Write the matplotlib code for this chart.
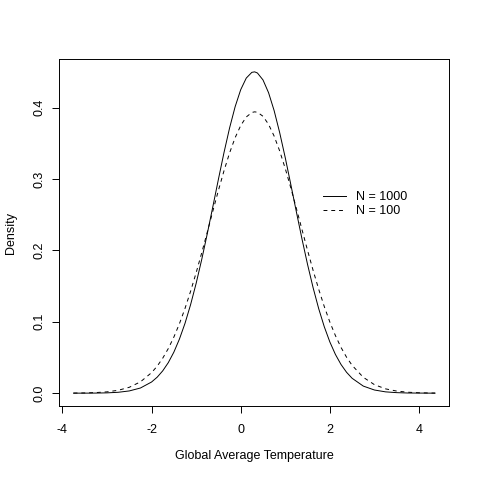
import matplotlib
matplotlib.use("Agg")
import matplotlib.pyplot as plt

plt.rcParams['font.family'] = ['Liberation Sans', 'DejaVu Sans']

# Density curves
x_vals = [-3.75, -3.5, -3.25, -3.0, -2.75, -2.5, -2.25, -2.0, -1.875, -1.75,
          -1.625, -1.5, -1.375, -1.25, -1.125, -1.0, -0.875, -0.75, -0.625, -0.5,
          -0.375, -0.25, -0.125, 0.0, 0.125, 0.25, 0.3125, 0.375, 0.5, 0.625,
          0.75, 0.875, 1.0, 1.125, 1.25, 1.375, 1.5, 1.625, 1.75, 1.875,
          2.0, 2.125, 2.25, 2.375, 2.5, 2.75, 3.0, 3.25, 3.5, 3.75,
          4.0, 4.25, 4.36]
dens_1000 = [0.0000, 0.0000, 0.0001, 0.0004, 0.0012, 0.0031, 0.0072, 0.0156, 0.0223, 0.0312,
             0.0427, 0.0574, 0.0757, 0.0977, 0.1238, 0.1537, 0.1871, 0.2233, 0.2612, 0.2996,
             0.3369, 0.3713, 0.4012, 0.4250, 0.4413, 0.4493, 0.4500, 0.4484, 0.4387, 0.4208,
             0.3957, 0.3647, 0.3296, 0.2920, 0.2536, 0.2159, 0.1802, 0.1475, 0.1183, 0.0930,
             0.0717, 0.0542, 0.0402, 0.0292, 0.0208, 0.0099, 0.0044, 0.0018, 0.0007, 0.0002,
             0.0001, 0.0000, 0.0000]
dens_100 = [0.0001, 0.0003, 0.0008, 0.0018, 0.0040, 0.0082, 0.0158, 0.0287, 0.0377, 0.0489,
            0.0624, 0.0785, 0.0972, 0.1186, 0.1425, 0.1686, 0.1965, 0.2255, 0.2550, 0.2840,
            0.3114, 0.3364, 0.3578, 0.3748, 0.3868, 0.3931, 0.3940, 0.3934, 0.3878, 0.3765,
            0.3600, 0.3391, 0.3145, 0.2873, 0.2585, 0.2291, 0.1999, 0.1718, 0.1455, 0.1213,
            0.0996, 0.0806, 0.0641, 0.0503, 0.0389, 0.0222, 0.0119, 0.0060, 0.0029, 0.0013,
            0.0005, 0.0002, 0.0001]
labels = ["N = 1000", "N = 100"]
x_ticks = [-4, -2, 0, 2, 4]
y_ticks = [0.0, 0.1, 0.2, 0.3, 0.4]
y_tick_labels = ["0.0", "0.1", "0.2", "0.3", "0.4"]

W = H = 480
fig = plt.figure(figsize=(4.8, 4.8), dpi=100)
left, right, top, bottom = 59.3, 449.3, 59.0, 406.0
ax = fig.add_axes([left / W, 1 - bottom / H, (right - left) / W, (bottom - top) / H])

lw = 0.7
ax.plot(x_vals, dens_1000, color='black', lw=lw, label=labels[0])
ax.plot(x_vals, dens_100, color='black', lw=lw, dashes=(4, 4), label=labels[1])

ax.set_xlim(-4.07, 4.68)
ax.set_ylim(-0.018, 0.468)
ax.set_xticks(x_ticks)
ax.set_xticklabels([str(t) for t in x_ticks])
ax.set_yticks(y_ticks)
ax.set_yticklabels(y_tick_labels, rotation=90, va='center')

fs = 9.0
ax.tick_params(axis='both', direction='out', length=5, width=lw, labelsize=fs, color='black')
ax.tick_params(axis='x', pad=8)
ax.tick_params(axis='y', pad=5)
for s in ax.spines.values():
    s.set_linewidth(lw)
    s.set_color('black')

ax.set_xlabel("Global Average Temperature", fontsize=fs)
ax.xaxis.label.set_va('center')
ax.xaxis.set_label_coords(0.5, (bottom - 456) / (bottom - top))
ax.set_ylabel("Density", fontsize=fs)
ax.yaxis.label.set_va('center')
ax.yaxis.set_label_coords((11 - left) / (right - left), 0.5)

leg = ax.legend(loc='upper left', bbox_to_anchor=(323 / W, 1 - 191.5 / H),
                bbox_transform=fig.transFigure, frameon=False, fontsize=fs,
                handlelength=1.8, handletextpad=0.85, labelspacing=0.12,
                borderpad=0, borderaxespad=0)

fig.savefig("out.png", dpi=100)
